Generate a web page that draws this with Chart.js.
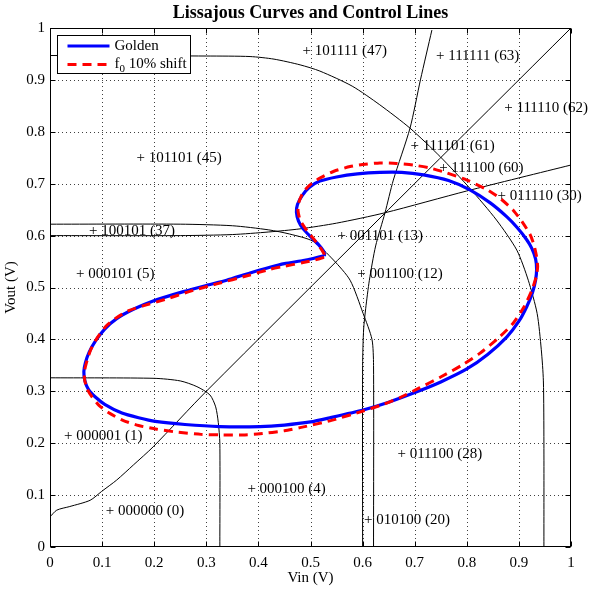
<!DOCTYPE html>
<html>
<head>
<meta charset="utf-8">
<script src="https://cdn.jsdelivr.net/npm/chart.js@4.4.1/dist/chart.umd.min.js"></script>
<style>
  html, body { margin: 0; padding: 0; background: #fff; }
</style>
</head>
<body>
<canvas id="lissajous" width="590" height="591"></canvas>
<script>
// tick values for both axes
const tickValues = [0, 0.1, 0.2, 0.3, 0.4, 0.5, 0.6, 0.7, 0.8, 0.9, 1];

// Lissajous curves (Vin, Vout)
const golden = [
  [0.526, 0.561], [0.505, 0.556], [0.486, 0.552], [0.45, 0.546], [0.422, 0.539],
  [0.384, 0.528], [0.339, 0.514], [0.3, 0.504], [0.256, 0.492], [0.198, 0.474],
  [0.16, 0.458], [0.128, 0.44], [0.105, 0.42], [0.088, 0.398], [0.075, 0.375],
  [0.068, 0.355], [0.065, 0.338], [0.067, 0.32], [0.074, 0.303], [0.087, 0.289],
  [0.105, 0.275], [0.138, 0.258], [0.17, 0.249], [0.202, 0.242], [0.259, 0.236],
  [0.326, 0.232], [0.403, 0.232], [0.45, 0.235], [0.5, 0.241], [0.537, 0.249],
  [0.601, 0.264], [0.65, 0.279], [0.704, 0.299], [0.75, 0.318], [0.8, 0.343],
  [0.84, 0.371], [0.877, 0.405], [0.9, 0.435], [0.915, 0.463], [0.926, 0.49],
  [0.932, 0.514], [0.934, 0.535], [0.932, 0.555], [0.925, 0.575], [0.915, 0.592],
  [0.897, 0.615], [0.877, 0.636], [0.845, 0.663], [0.806, 0.688], [0.765, 0.706],
  [0.717, 0.717], [0.675, 0.722], [0.633, 0.722], [0.59, 0.719], [0.55, 0.713],
  [0.518, 0.705], [0.498, 0.693], [0.484, 0.677], [0.475, 0.66], [0.473, 0.645],
  [0.477, 0.628], [0.486, 0.613], [0.5, 0.598], [0.515, 0.583], [0.525, 0.57],
  [0.527, 0.563], [0.526, 0.561]
];
const shifted = [
  [0.526, 0.558], [0.505, 0.552], [0.486, 0.548], [0.45, 0.541], [0.422, 0.535],
  [0.38, 0.523], [0.32, 0.507], [0.27, 0.493], [0.221, 0.477], [0.18, 0.465],
  [0.15, 0.455], [0.125, 0.44], [0.106, 0.424], [0.09, 0.402], [0.079, 0.382],
  [0.072, 0.362], [0.067, 0.343], [0.066, 0.325], [0.071, 0.305], [0.08, 0.29],
  [0.094, 0.273], [0.112, 0.259], [0.14, 0.244], [0.17, 0.234], [0.205, 0.227],
  [0.246, 0.221], [0.29, 0.217], [0.326, 0.216], [0.37, 0.216], [0.403, 0.218],
  [0.45, 0.224], [0.48, 0.23], [0.537, 0.243], [0.601, 0.262], [0.64, 0.275],
  [0.672, 0.288], [0.71, 0.307], [0.749, 0.327], [0.79, 0.35], [0.825, 0.373],
  [0.86, 0.402], [0.889, 0.431], [0.91, 0.463], [0.925, 0.495], [0.933, 0.52],
  [0.936, 0.54], [0.934, 0.559], [0.929, 0.582], [0.921, 0.603], [0.906, 0.627],
  [0.889, 0.649], [0.865, 0.671], [0.838, 0.689], [0.8, 0.707], [0.761, 0.721],
  [0.73, 0.73], [0.697, 0.736], [0.665, 0.739], [0.633, 0.74], [0.6, 0.737],
  [0.576, 0.733], [0.545, 0.724], [0.518, 0.711], [0.498, 0.697], [0.485, 0.682],
  [0.478, 0.665], [0.476, 0.648], [0.48, 0.63], [0.49, 0.614], [0.505, 0.595],
  [0.518, 0.578], [0.526, 0.565], [0.526, 0.558]
];

// control lines
const ctrlDiag = [
  [0, 0.058], [0.013, 0.071], [0.038, 0.078], [0.077, 0.09], [0.099, 0.107],
  [0.128, 0.129], [0.16, 0.158], [0.198, 0.193], [0.3, 0.3], [1, 1]
];
const ctrlLow = [
  [0, 0.326], [0.2, 0.325], [0.25, 0.32], [0.282, 0.309], [0.307, 0.293],
  [0.318, 0.27], [0.323, 0.24], [0.326, 0.2], [0.326, 0]
];
const ctrlMidFlat = [
  [0, 0.6], [0.25, 0.6], [0.35, 0.602], [0.42, 0.607], [0.48, 0.613],
  [0.55, 0.624], [0.643, 0.644], [0.8, 0.686], [1, 0.736]
];
const ctrlMidDrop = [
  [0, 0.622], [0.25, 0.622], [0.35, 0.619], [0.42, 0.611], [0.46, 0.603],
  [0.505, 0.589], [0.544, 0.553], [0.576, 0.514], [0.601, 0.45], [0.618, 0.4],
  [0.621, 0.35], [0.621, 0]
];
const ctrlSteep = [
  [0.6, 0], [0.6, 0.35], [0.602, 0.42], [0.606, 0.46], [0.613, 0.514],
  [0.625, 0.58], [0.643, 0.644], [0.659, 0.707], [0.691, 0.807], [0.711, 0.9],
  [0.733, 0.996]
];
const ctrlTop = [
  [0, 0.947], [0.3, 0.946], [0.384, 0.945], [0.43, 0.94], [0.48, 0.929],
  [0.518, 0.917], [0.58, 0.888], [0.633, 0.852], [0.691, 0.807], [0.749, 0.752],
  [0.806, 0.691], [0.857, 0.63], [0.896, 0.572], [0.918, 0.514], [0.935, 0.45],
  [0.943, 0.38], [0.947, 0.32], [0.948, 0.2], [0.948, 0]
];

// code labels ("+" sits on the point)
const labelText = [
  '101111 (47)', '111111 (63)', '111110 (62)', '111101 (61)', '111100 (60)',
  '011110 (30)', '001101 (13)', '001100 (12)', '101101 (45)', '100101 (37)',
  '000101 (5)', '000001 (1)', '000000 (0)', '000100 (4)', '010100 (20)', '011100 (28)'
];
const labelX = [0.493, 0.749, 0.88, 0.70, 0.755, 0.867, 0.56, 0.598, 0.174, 0.083,
  0.058, 0.035, 0.115, 0.387, 0.611, 0.675];
const labelY = [0.955, 0.945, 0.846, 0.772, 0.73, 0.677, 0.60, 0.525, 0.75, 0.609,
  0.525, 0.214, 0.07, 0.111, 0.051, 0.179];

const titleText = 'Lissajous Curves and Control Lines';
const serif = '"Liberation Serif", "Times New Roman", serif';
const pts = arr => arr.map(p => ({ x: p[0], y: p[1] }));

function ctrlSet(arr) {
  return {
    data: pts(arr), showLine: true, pointRadius: 0, borderColor: '#000',
    borderWidth: 1, tension: 0.25, order: 3
  };
}

// dotted grid under the data
const dottedGrid = {
  id: 'dottedGrid',
  beforeDatasetsDraw(chart) {
    const { ctx, chartArea: a, scales: { x, y } } = chart;
    ctx.save();
    ctx.strokeStyle = 'rgba(0,0,0,0.75)';
    ctx.lineWidth = 1;
    ctx.setLineDash([1, 3]);
    ctx.beginPath();
    tickValues.slice(1, -1).forEach(v => {
      const px = Math.round(x.getPixelForValue(v)) + 0.5;
      ctx.moveTo(px, a.bottom); ctx.lineTo(px, a.top);
      const py = Math.round(y.getPixelForValue(v)) + 0.5;
      ctx.moveTo(a.left, py); ctx.lineTo(a.right, py);
    });
    ctx.stroke();
    ctx.restore();
  }
};

const overlay = {
  id: 'overlay',
  afterDatasetsDraw(chart) {
    const { ctx, chartArea: a, scales: { x, y } } = chart;
    ctx.save();
    // labels
    ctx.font = '15px ' + serif;
    ctx.fillStyle = '#000';
    ctx.textBaseline = 'middle';
    ctx.textAlign = 'left';
    const plusW = ctx.measureText('+').width;
    labelText.forEach((t, i) => {
      const px = x.getPixelForValue(labelX[i]);
      const py = y.getPixelForValue(labelY[i]);
      ctx.fillText('+ ' + t, px - plusW / 2, py);
    });
    // box and inward ticks
    ctx.strokeStyle = '#000';
    ctx.lineWidth = 1;
    const L = Math.round(a.left) + 0.5, R = Math.round(a.right) - 0.5;
    const T = Math.round(a.top) + 0.5, B = Math.round(a.bottom) - 0.5;
    ctx.strokeRect(L, T, R - L, B - T);
    ctx.beginPath();
    tickValues.forEach(v => {
      const px = Math.round(x.getPixelForValue(v)) + 0.5;
      ctx.moveTo(px, B); ctx.lineTo(px, B - 5);
      ctx.moveTo(px, T); ctx.lineTo(px, T + 5);
      const py = Math.round(y.getPixelForValue(v)) + 0.5;
      ctx.moveTo(L, py); ctx.lineTo(L + 5, py);
      ctx.moveTo(R, py); ctx.lineTo(R - 5, py);
    });
    ctx.stroke();
    // title, centred on the plot box
    ctx.textAlign = 'center';
    ctx.font = 'bold 18px ' + serif;
    ctx.fillText(titleText, (a.left + a.right) / 2, 13);
    ctx.textAlign = 'left';
    // legend
    const lx = L + 7, ly = T + 7, lw = 133, lh = 38;
    ctx.fillStyle = '#fff';
    ctx.fillRect(lx, ly, lw, lh);
    ctx.strokeRect(lx, ly, lw, lh);
    const ds = chart.data.datasets;
    [ds[0], ds[1]].forEach((d, i) => {
      const ry = ly + 10.5 + i * 18.5;
      ctx.beginPath();
      ctx.strokeStyle = d.borderColor;
      ctx.lineWidth = 3;
      ctx.setLineDash(d.borderDash || []);
      ctx.moveTo(lx + 10, ry); ctx.lineTo(lx + 52, ry);
      ctx.stroke();
      ctx.setLineDash([]);
    });
    ctx.fillStyle = '#000';
    ctx.font = '15px ' + serif;
    ctx.fillText('Golden', lx + 57, ly + 10.5);
    const r2 = ly + 29;
    ctx.fillText('f', lx + 57, r2);
    const fw = ctx.measureText('f').width;
    ctx.font = '11px ' + serif;
    ctx.fillText('0', lx + 57 + fw, r2 + 5);
    const zw = ctx.measureText('0').width;
    ctx.font = '15px ' + serif;
    ctx.fillText(' 10% shift', lx + 57 + fw + zw, r2);
    ctx.restore();
  }
};

new Chart(document.getElementById('lissajous'), {
  type: 'scatter',
  data: {
    datasets: [
      {
        label: 'Golden', data: pts(golden), showLine: true, pointRadius: 0,
        borderColor: '#0000ff', borderWidth: 3.2, tension: 0.2, order: 1
      },
      {
        label: 'f0 10% shift', data: pts(shifted), showLine: true, pointRadius: 0,
        borderColor: '#ff0000', borderWidth: 3, borderDash: [9, 6], tension: 0.2, order: 0
      },
      ctrlSet(ctrlDiag), ctrlSet(ctrlLow), ctrlSet(ctrlMidFlat),
      ctrlSet(ctrlMidDrop), ctrlSet(ctrlSteep), ctrlSet(ctrlTop)
    ]
  },
  options: {
    responsive: false,
    animation: false,
    layout: { padding: { left: 0, right: 19, top: 28, bottom: 0 } },
    plugins: {
      legend: { display: false },
      tooltip: { enabled: false },
      title: { display: false }
    },
    scales: {
      x: {
        type: 'linear', min: 0, max: 1,
        afterBuildTicks: s => { s.ticks = tickValues.map(v => ({ value: v })); },
        afterFit: s => { s.height = 44; },
        ticks: { color: '#000', font: { family: serif, size: 15 }, padding: 7, maxRotation: 0,
          callback: v => String(+v.toFixed(1)) },
        grid: { display: false, drawTicks: false },
        border: { display: false },
        title: { display: true, text: 'Vin (V)', color: '#000',
          font: { family: serif, size: 15, lineHeight: 1 }, padding: { top: 0, bottom: 5 } }
      },
      y: {
        type: 'linear', min: 0, max: 1,
        afterBuildTicks: s => { s.ticks = tickValues.map(v => ({ value: v })); },
        afterFit: s => { s.width = 50; },
        ticks: { color: '#000', font: { family: serif, size: 15 }, padding: 5,
          callback: v => String(+v.toFixed(1)) },
        grid: { display: false, drawTicks: false },
        border: { display: false },
        title: { display: true, text: 'Vout (V)', color: '#000',
          font: { family: serif, size: 15, lineHeight: 1 }, padding: { top: 4, bottom: 0 } }
      }
    }
  },
  plugins: [dottedGrid, overlay]
});
</script>
</body>
</html>
